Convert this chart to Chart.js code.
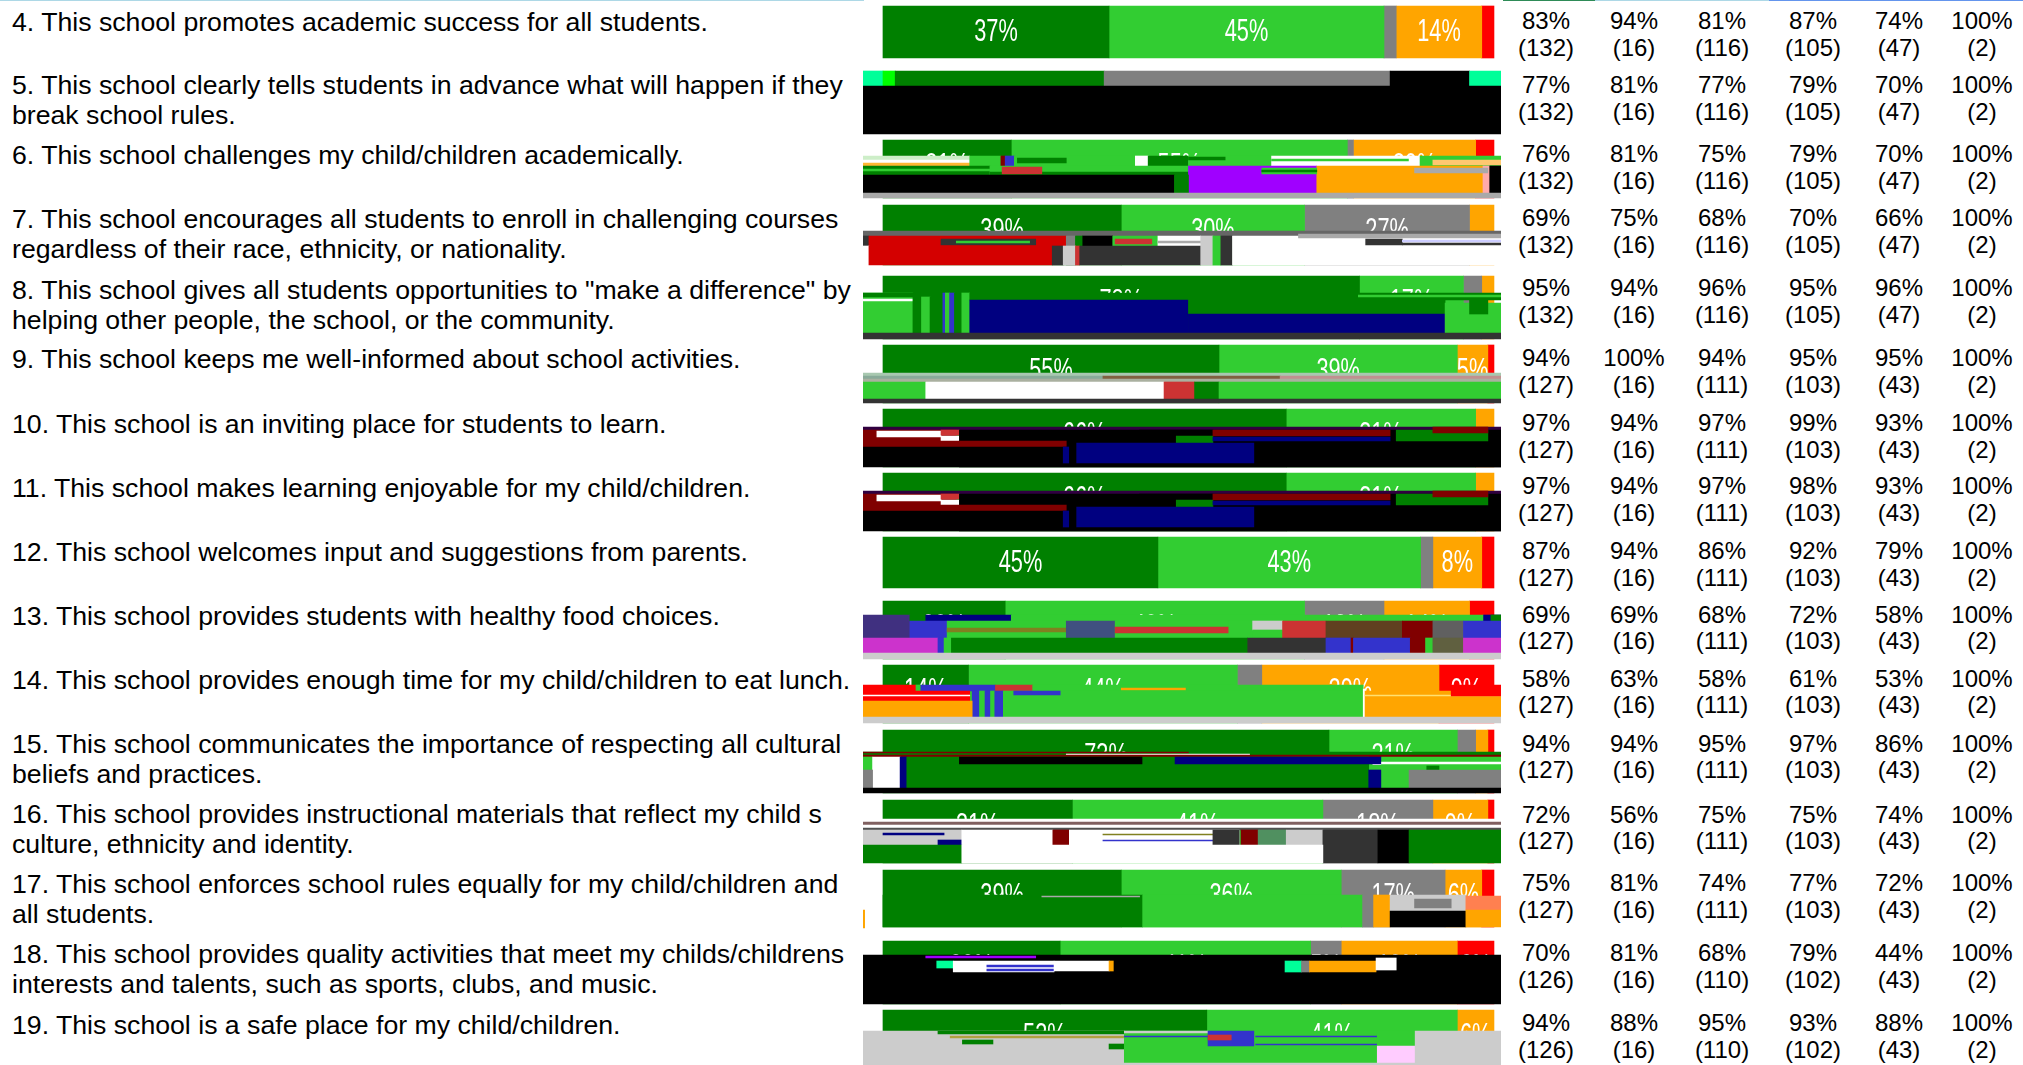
<!DOCTYPE html>
<html>
<head>
<meta charset="utf-8">
<title>School survey</title>
<script src="https://cdn.jsdelivr.net/npm/chart.js@4"></script>
<style>
  html, body { margin: 0; padding: 0; background: #fff; }
  body { position: relative; width: 2023px; height: 1065px; overflow: hidden;
         font-family: "Liberation Sans", Arial, sans-serif; color: #000; }
  .rule { position: absolute; top: 0; height: 1px; }
  .question { position: absolute; left: 12px; font-size: 26.67px; line-height: 30px; white-space: pre; }
  .stat { position: absolute; width: 90px; font-size: 24px; line-height: 26.5px; text-align: center; white-space: pre; }
  #chartBox { position: absolute; left: 863px; top: 0; width: 638px; height: 1065px; }
</style>
</head>
<body>
<div class="rule" style="left:0;width:864px;background:#add8e6"></div>
<div class="rule" style="left:1503px;width:92px;background:#2e8b57"></div>
<div class="rule" style="left:1595px;width:174px;background:#add8e6"></div>
<div class="rule" style="left:1769px;width:254px;background:#6495ed"></div>
<div id="chartBox"><canvas id="chart"></canvas></div>
<script>
// Question text, wrapped where the reference wraps
const questions = [
  '4. This school promotes academic success for all students.',
  '5. This school clearly tells students in advance what will happen if they\nbreak school rules.',
  '6. This school challenges my child/children academically.',
  '7. This school encourages all students to enroll in challenging courses\nregardless of their race, ethnicity, or nationality.',
  '8. This school gives all students opportunities to "make a difference" by\nhelping other people, the school, or the community.',
  '9. This school keeps me well-informed about school activities.',
  '10. This school is an inviting place for students to learn.',
  '11. This school makes learning enjoyable for my child/children.',
  '12. This school welcomes input and suggestions from parents.',
  '13. This school provides students with healthy food choices.',
  '14. This school provides enough time for my child/children to eat lunch.',
  '15. This school communicates the importance of respecting all cultural\nbeliefs and practices.',
  '16. This school provides instructional materials that reflect my child s\nculture, ethnicity and identity.',
  '17. This school enforces school rules equally for my child/children and\nall students.',
  '18. This school provides quality activities that meet my childs/childrens\ninterests and talents, such as sports, clubs, and music.',
  '19. This school is a safe place for my child/children.'
];

// Stacked bar series (row 5 has no clean segments left)
const darkGreenShare = [37, 0, 21, 39, 78, 55, 66, 66, 45, 20, 14, 73, 31, 39, 29, 53];
const limeShare      = [45, 0, 55, 30, 17, 39, 31, 31, 43, 49, 44, 21, 41, 36, 41, 41];
const grayShare      = [ 2, 0,  1, 27,  3,  0,  0,  0,  2, 13,  4,  3, 18, 17,  5,  0];
const orangeShare    = [14, 0, 20,  4,  2,  5,  3,  3,  8, 14, 29,  2,  9,  6, 19,  6];
const redShare       = [ 2, 0,  3,  0,  0,  1,  0,  0,  2,  4,  9,  1,  1,  2,  6,  0];

// Right hand table, one pair of lists per column
const allPct   = [83, 77, 76, 69, 95, 94, 97, 97, 87, 69, 58, 94, 72, 75, 70, 94];
const allN     = [132, 132, 132, 132, 132, 127, 127, 127, 127, 127, 127, 127, 127, 127, 126, 126];
const col2Pct  = [94, 81, 81, 75, 94, 100, 94, 94, 94, 69, 63, 94, 56, 81, 81, 88];
const col2N    = [16, 16, 16, 16, 16, 16, 16, 16, 16, 16, 16, 16, 16, 16, 16, 16];
const col3Pct  = [81, 77, 75, 68, 96, 94, 97, 97, 86, 68, 58, 95, 75, 74, 68, 95];
const col3N    = [116, 116, 116, 116, 116, 111, 111, 111, 111, 111, 111, 111, 111, 111, 110, 110];
const col4Pct  = [87, 79, 79, 70, 95, 95, 99, 98, 92, 72, 61, 97, 75, 77, 79, 93];
const col4N    = [105, 105, 105, 105, 105, 103, 103, 103, 103, 103, 103, 103, 103, 103, 102, 102];
const col5Pct  = [74, 70, 70, 66, 96, 95, 93, 93, 79, 58, 53, 86, 74, 72, 44, 88];
const col5N    = [47, 47, 47, 47, 47, 43, 43, 43, 43, 43, 43, 43, 43, 43, 43, 43];
const col6Pct  = [100, 100, 100, 100, 100, 100, 100, 100, 100, 100, 100, 100, 100, 100, 100, 100];
const col6N    = [2, 2, 2, 2, 2, 2, 2, 2, 2, 2, 2, 2, 2, 2, 2, 2];

// Layout of the rows, in page pixels (the y scale of the chart runs in pixels too)
const rowTop     = [6, 71, 140, 205, 276, 345, 409, 473, 537, 601, 665, 730, 800, 870, 941, 1010];
const rowBottom  = [58, 134, 198, 265, 339, 403, 467, 531, 588, 659, 723, 793, 863, 927, 1004, 1065];
const questionY  = [22, 85, 155, 219, 290, 359, 424, 488, 552, 616, 680, 744, 814, 884, 954, 1025];
const statY      = [21, 85, 154, 218, 288, 358, 423, 486, 551, 614.5, 678.5, 743.5, 814.5, 883, 953, 1023];
const statX      = [1546, 1634, 1722, 1813, 1899, 1982];

const seriesColors = ['#008000', '#32cd32', '#808080', '#ffa500', '#ff0000'];

const DG = '#008000', LG = '#32cd32', GY = '#808080', OR = '#ffa500', RD = '#ff0000';
const BK = '#000000', NV = '#000080', WH = '#ffffff', DK = '#333333', MR = '#800000';
const BL = '#3333cc', FB = '#cc3333', CR = '#d40000', LT = '#cccccc', DA = '#a9a9a9';
const PU = '#a000ff', MG = '#cc33cc', MT = '#00ff99', LM = '#00ff00', PK = '#ffaaaa', PP = '#ffccff';
const L = -3.3, R = 101.2;

// The reference image is damaged over most rows. Those blocks are no survey values, they are
// read off the picture as floating bars: [y from, y to, x from, x to, colour]
const damage5 = [
  [71, 86, L, 0, MT], [71, 86, 0, 2, LM], [71, 86, 2, 36.2, DG], [71, 86, 36.2, 83, GY],
  [71, 86, 83, 96, BK], [71, 86, 96, R, MT], [86, 134, L, R, BK]
];
const damage6 = [
  [156, 160, L, 14.2, '#cdeec8'], [160, 163, L, 14.2, WH], [163, 166, L, 14.2, '#ffb733'],
  [156, 166, 14.2, 19.3, LG], [156, 166, 19.3, 20, MR], [156, 166, 20, 21.5, BL], [156, 166, 21.5, 41.3, LG],
  [158, 163, 22, 30, DG], [156, 166, 41.3, 43.4, WH], [156, 166, 43.4, 50, DG], [156, 166, 50, 63.6, LG],
  [157, 160, 50, 56, DG], [156, 166, 63.6, 87.9, WH], [159, 161, 63.6, 86, LG], [156, 166, 87.9, R, LG],
  [160, 165, 90, R, '#ffc870'],
  [166, 175, L, 17.5, DG], [169, 171, L, 17.5, LG], [166, 175, 17.5, 50, LG], [172, 175, 17.5, 50, DG],
  [167, 174, 19.5, 26, FB], [166, 193, 50, 71, PU], [166, 193, 71, 98.2, OR], [166, 193, 98.2, 99.3, PK],
  [166, 193, 99.3, R, BK], [168, 174, 62, 71, LG], [170, 172, 62, 71, DG], [168, 173, 87, 99, DA],
  [175, 193, L, 47.7, BK], [175, 193, 47.7, 50, DG], [193, 198, L, R, DA]
];
const damage7 = [
  [231, 236, L, R, '#666666'], [236, 246, L, -2.3, DK], [236, 246, -2.3, 30, CR], [239, 245, 9.5, 25, DK],
  [241, 243, 12, 24, LG], [236, 265, 30, 31.5, GY], [236, 246, 31.5, 32.7, DG], [236, 246, 32.7, 37.6, BK],
  [236, 246, 37.6, 45, LG], [239, 244, 38, 44, FB], [236, 246, 45, 52, WH], [241, 243, 45, 52, DA],
  [246, 265, L, -2.3, WH], [246, 265, -2.3, 27.7, CR], [246, 265, 27.7, 29.5, DK], [246, 265, 29.5, 31.5, LT],
  [246, 265, 31.5, 32.2, FB], [246, 265, 32.2, 52, DK], [236, 265, 52, 54, LT], [236, 265, 54, 55.3, LG],
  [236, 265, 55.3, 57.2, DK], [236, 265, 57.2, R, WH], [234, 238, 68, R, DA], [239, 245, 79, 85, DK],
  [240, 242, 85, R, '#ccccff'], [243, 245, 85, R, DK]
];
const damage8 = [
  [293, 333, L, 4.9, LG], [293, 297, L, 18.5, DG], [299, 301, L, 4.9, WH], [293, 333, 4.9, 6.3, DG],
  [297, 333, 6.3, 7.7, LG], [297, 333, 7.7, 9.8, DG], [293, 333, 9.8, 10.2, BL], [293, 333, 10.2, 10.9, LG],
  [293, 333, 10.9, 11.7, BL], [293, 333, 11.7, 12.9, DG], [293, 333, 12.9, 14.2, LG], [293, 300, 14.2, 48.6, DG],
  [300, 333, 14.2, 50, NV], [293, 300, 50, R, DG], [300, 314, 50, 92, DG], [314, 333, 50, 92, NV],
  [295, 297, 77.8, R, LG], [303, 333, 92, R, LG], [300, 314, 96, 99, DG], [333, 339, L, R, DK]
];
const damage9 = [
  [373, 376, L, R, '#a8c8b0'], [376, 379, L, 36, '#88aa99'], [376, 379, 36, 65, '#806040'], [376, 379, 65, R, '#c09090'],
  [379, 382, L, R, '#aab0a0'], [382, 399, L, 7, LG], [382, 399, 7, 46, WH], [382, 399, 46, 51, FB],
  [382, 399, 51, 55, DG], [382, 399, 55, R, LG], [399, 403, L, R, DK]
];
const damage10 = [
  [427, 430, L, R, '#300040'], [430, 447, L, 12, MR], [431, 437, -1, 9.5, WH], [436, 441, 9.5, 12.5, WH],
  [430, 435, 9.5, 12.5, FB], [430, 467, 12.5, R, BK], [430, 447, 42, 54, BK], [436, 443, 48, 54, DG],
  [430, 436, 54, 83, MR], [437, 441, 54, 83, NV], [430, 441, 84, 99, DG], [427, 433, 90, 99, MR],
  [441, 447, 0, 30, MR], [447, 467, L, R, BK], [447, 463, 29.5, 30.4, NV], [443, 463, 31.7, 60.7, NV]
];
const damage11 = damage10.map(d => [d[0] + 64, d[1] + 64, d[2], d[3], d[4]]);
const damage13 = [
  [615, 638, L, 4.4, '#403080'], [615, 621, 4.4, 7, DG], [615, 623, 7, 21, NV], [621, 638, 4.4, 10.5, BL],
  [615, 621, 21, 98.3, LG], [615, 621, 98.3, R, NV], [615, 621, 99.5, R, DG],
  [621, 638, 10.5, 30, LG], [628, 632, 10.5, 30, '#808020'], [621, 638, 30, 38, '#405080'],
  [621, 638, 38, 56.6, LG], [627, 633, 38, 56.6, FB], [621, 638, 56.6, 60.5, LG], [621, 630, 60.5, 65.4, LT],
  [630, 638, 60.5, 65.4, LG], [621, 638, 65.4, 72.5, FB], [621, 638, 72.5, 85, '#604020'], [621, 638, 85, 90, MR],
  [621, 638, 90, 95, '#606060'], [621, 638, 95, R, BL],
  [638, 653, L, 9, MG], [638, 653, 9, 10, BL], [638, 653, 10, 11.2, LG], [638, 653, 11.2, 59.7, DG],
  [638, 653, 59.7, 72.5, DK], [638, 653, 72.5, 76.6, BL], [638, 653, 76.6, 77, MR], [638, 653, 77, 86.3, BL],
  [638, 653, 86.3, 88.8, MR], [638, 653, 88.8, 90, LG], [638, 653, 90, 95, '#606040'], [638, 653, 95, R, MG],
  [653, 659, L, R, LT]
];
const damage14 = [
  [685, 691, L, 5.4, RD], [685, 691, 5.4, 6.2, LG], [685, 691, 6.2, 18.4, BL], [685, 691, 18.4, 24.5, FB],
  [685, 691, 24.5, 78.6, LG], [688, 690, 39, 49.5, OR], [691, 701, L, 14.2, RD], [695, 696, L, 14.2, WH],
  [691, 717, 14.6, 15.8, BL], [691, 717, 15.8, 16.7, LG], [691, 717, 16.7, 17.6, BL], [691, 717, 17.6, 18.3, LG],
  [691, 717, 18.3, 19.7, BL], [691, 717, 19.7, 21.4, LG], [691, 717, 21.4, 78.6, LG], [691, 695, 21.4, 29, BL],
  [689, 717, 78.6, 78.9, WH], [691, 717, 78.9, R, OR], [695, 696, 78.9, R, '#ffe070'], [685, 696, 93, R, RD],
  [701, 717, L, 14.6, OR], [717, 723, L, R, LT]
];
const damage15 = [
  [752, 757, L, R, DG], [752, 753, L, 50, MR], [754, 755, 30, 60, WH], [755, 757, L, R, MR],
  [757, 770, L, -1.7, LG], [757, 788, -1.7, 2.8, WH], [770, 788, L, -1.7, GY], [757, 788, 2.8, 3.9, NV],
  [757, 788, 3.9, 79.5, DG], [757, 764, 12.5, 42.4, BK], [757, 764, 47.8, 81.6, NV], [770, 788, 79.5, 81.6, NV],
  [757, 770, 81.6, R, LG], [762, 764, 81.6, R, WH], [766, 770, 89, 91, DG], [770, 788, 81.6, 86.1, LG],
  [770, 788, 86.1, R, GY], [788, 793, L, R, BK]
];
const damage16 = [
  [819, 822, L, R, WH], [822, 825, L, R, '#806060'], [825, 828, L, R, WH], [828, 830, L, R, '#505050'],
  [830, 845, L, 12.9, LT], [833, 835, 0, 10, NV], [840, 845, 9, 12.9, NV], [830, 845, 12.9, 27.8, WH],
  [830, 845, 27.8, 30.5, MR], [830, 845, 30.5, 58.3, WH], [834, 835, 36, 54, '#808020'], [840, 841, 36, 54, BL],
  [830, 845, 54, 58.3, DK], [830, 845, 58.6, 61.4, MR], [830, 845, 61.4, 66, '#509060'], [830, 845, 66, 72, LT],
  [830, 863, 72, 81, DK], [830, 863, 81, 86.1, BK], [830, 863, 86.1, R, DG],
  [845, 863, L, 12.9, DG], [845, 863, 12.9, 72, WH]
];
const damage17 = [
  [910, 928, L, -3, OR], [895, 927, 0, 42.5, DG], [895, 927, 42.5, 78.5, LG], [895, 927, 78.5, 80.3, GY],
  [895, 927, 80.3, 83, OR], [895, 911, 83, 95.4, LT], [899, 908, 87, 93, GY], [911, 927, 83, 95.4, BK],
  [896, 910, 95.4, R, '#ff8050'], [910, 927, 95.4, R, OR], [896, 897, 26, 42, DA]
];
const damage18 = [
  [955, 1004, L, R, BK], [956, 958, 7, 25, PU], [961, 968, 8.8, 11.5, MT], [961, 972, 11.5, 28, WH],
  [965, 967, 17, 28, BL], [969, 971, 17, 28, BL], [961, 971, 28, 37, WH], [961, 971, 37, 37.7, OR],
  [961, 972, 65.8, 68.5, MT], [961, 972, 68.5, 69.8, GY], [961, 972, 69.8, 80.7, OR], [958, 970, 80.7, 84, WH]
];
const damage19 = [
  [1031, 1065, L, 39.5, LT], [1031, 1034, 9, 39.5, DG], [1036, 1038, 11, 39.5, '#b0a040'], [1040, 1044, 13, 18, DG],
  [1044, 1049, 37, 39.5, DG], [1031, 1063, 39.5, 80.9, LG], [1031, 1033, 39.5, 53.2, LT], [1036, 1037, 39.5, 53.2, BL],
  [1031, 1046, 53.2, 60.7, BL], [1035, 1040, 53.2, 57, FB], [1036, 1037, 61, 80.9, BL], [1044, 1045, 61, 80.9, BL],
  [1031, 1046, 80.9, 87.1, LG], [1046, 1063, 80.9, 87.1, PP], [1031, 1065, 87.1, R, LT], [1063, 1065, 39.5, 87.1, LT]
];
const damageLists = [damage5, damage6, damage7, damage8, damage9, damage10, damage11,
                     damage13, damage14, damage15, damage16, damage17, damage18, damage19];

/**
 * Text of the left column and the right hand table
 */
function addTexts() {
  questions.forEach((text, i) => {
    const el = document.createElement('div');
    el.className = 'question';
    el.style.top = (questionY[i] - 15) + 'px';
    el.textContent = text;
    document.body.appendChild(el);
  });
  const pcts = [allPct, col2Pct, col3Pct, col4Pct, col5Pct, col6Pct];
  const counts = [allN, col2N, col3N, col4N, col5N, col6N];
  pcts.forEach((col, c) => {
    col.forEach((pct, i) => {
      const el = document.createElement('div');
      el.className = 'stat';
      el.style.left = (statX[c] - 45) + 'px';
      el.style.top = (statY[i] - 13) + 'px';
      el.textContent = pct + '%\n(' + counts[c][i] + ')';
      document.body.appendChild(el);
    });
  });
}

/**
 * One floating bar per segment, each row with its own thickness
 */
function buildDatasets() {
  const datasets = [];
  const series = [darkGreenShare, limeShare, grayShare, orangeShare, redShare];
  questions.forEach((q, row) => {
    let start = 0;
    series.forEach((values, s) => {
      const value = values[row];
      if (!value) return;
      datasets.push({
        data: [{ x: [start, start + value], y: (rowTop[row] + rowBottom[row]) / 2 }],
        backgroundColor: seriesColors[s],
        barThickness: rowBottom[row] - rowTop[row],
        order: 1,
        share: value,
        labelY: rowTop[row] + 26
      });
      start += value;
    });
  });
  // damage goes over the segments, later blocks on top of earlier ones
  let order = 0;
  damageLists.forEach(list => {
    list.forEach(block => {
      datasets.push({
        data: [{ x: [block[2], block[3]], y: (block[0] + block[1]) / 2 }],
        backgroundColor: block[4],
        barThickness: block[1] - block[0],
        order: order--
      });
    });
  });
  return datasets;
}

// Percent labels, squeezed like the reference, drawn right after their own segment
const segmentLabels = {
  id: 'segmentLabels',
  afterDatasetDraw(chart, args) {
    const ds = chart.data.datasets[args.index];
    if (!ds.share || ds.share < 5) return;
    const bar = args.meta.data[0];
    const ctx = chart.ctx;
    ctx.save();
    ctx.translate(bar.x - (bar.width / 2) * (bar.x > bar.base ? 1 : -1), chart.scales.y.getPixelForValue(ds.labelY));
    ctx.scale(0.68, 1);
    ctx.font = '32px "Liberation Sans", Arial, sans-serif';
    ctx.fillStyle = '#ffffff';
    ctx.textAlign = 'center';
    ctx.textBaseline = 'middle';
    ctx.fillText(ds.share + '%', 0, 0);
    ctx.restore();
  }
};

addTexts();
new Chart(document.getElementById('chart'), {
  type: 'bar',
  data: { datasets: buildDatasets() },
  plugins: [segmentLabels],
  options: {
    indexAxis: 'y',
    responsive: true,
    maintainAspectRatio: false,
    animation: false,
    grouped: false,
    layout: { padding: 0 },
    plugins: { legend: { display: false }, tooltip: { enabled: false } },
    scales: {
      x: { type: 'linear', min: -3.27, max: 101.15, display: false },
      y: { type: 'linear', min: 0, max: 1065, reverse: true, display: false, offset: false }
    }
  }
});
</script>
</body>
</html>
